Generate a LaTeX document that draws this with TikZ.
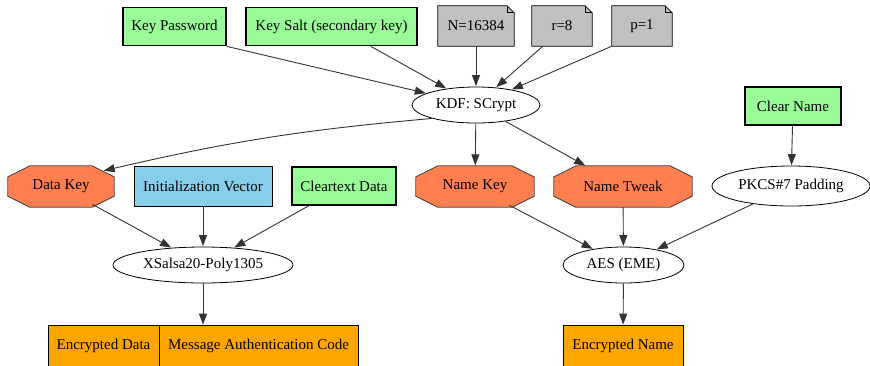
\documentclass[tikz,border=0pt]{standalone}
\usepackage{fontspec}
\setmainfont{Liberation Serif}
\usetikzlibrary{arrows.meta,shapes.geometric,backgrounds}
\definecolor{palegreen}{HTML}{98FB98}
\definecolor{notegray}{HTML}{C0C0C0}
\definecolor{skyblue}{HTML}{87CEEB}
\definecolor{coral}{HTML}{FF7F50}
\definecolor{recorange}{HTML}{FFA500}
\definecolor{edgecol}{HTML}{333333}
\tikzset{
  base/.style={font=\fontsize{15}{17}\selectfont, inner sep=0pt, text=black},
  inbox/.style={base, rectangle, draw=black, line width=1.8pt, fill=palegreen, minimum height=38pt},
  ivbox/.style={base, rectangle, draw=black, line width=0.8pt, fill=skyblue, minimum height=40pt},
  notenode/.style={base, rectangle, minimum height=40pt},
  notefill/.style={draw=black, line width=0.8pt, fill=notegray, line join=miter},
  keynode/.style={base, rectangle, minimum height=41pt},
  octfill/.style={draw=black!75, line width=0.8pt, fill=coral},
  opnode/.style={base, ellipse, draw=black, line width=0.8pt, fill=white, inner sep=0pt},
  outbox/.style={base, rectangle, draw=black, line width=0.8pt, fill=recorange, minimum height=41pt},
  edge/.style={draw=edgecol, line width=0.9pt, -{Triangle[length=11pt,width=8pt]}, shorten >=0.5pt}
}
% note outline with folded top-right corner
\newcommand\notedraw[1]{%
  \draw[notefill] (#1.south west) -- (#1.north west) -- ([xshift=-7pt]#1.north east)
    -- ([yshift=-7pt]#1.north east) -- (#1.south east) -- cycle;
  \draw[line width=0.8pt] ([xshift=-7pt]#1.north east) -- ([xshift=-7pt,yshift=-7pt]#1.north east)
    -- ([yshift=-7pt]#1.north east);}
% stretched octagon outline
\newcommand\octdraw[1]{%
  \draw[octfill] ([xshift=22pt]#1.north west) -- ([xshift=-22pt]#1.north east)
    -- ([yshift=-11pt]#1.north east) -- ([yshift=11pt]#1.south east)
    -- ([xshift=-22pt]#1.south east) -- ([xshift=22pt]#1.south west)
    -- ([yshift=11pt]#1.south west) -- ([yshift=-11pt]#1.north west) -- cycle;}
\begin{document}
\begin{tikzpicture}[x=1pt,y=-1pt]
\useasboundingbox (0,0) rectangle (870,365);

% top row: inputs of the KDF
\node[inbox, minimum width=103pt] (kp) at (174.5,26.5) {Key Password};
\node[inbox, minimum width=171pt] (ks) at (331.5,26.5) {Key Salt (secondary key)};
\node[notenode, minimum width=76pt] (nn) at (476,26) {N=16384};
\node[notenode, minimum width=60pt] (rr) at (562,26) {r=8};
\node[notenode, minimum width=60pt] (pp) at (642,26) {p=1};

\node[opnode, minimum width=128pt, minimum height=36pt] (kdf) at (476,105) {KDF: SCrypt};
\node[inbox, minimum width=96pt] (cn) at (793,106) {Clear Name};

% middle row
\node[keynode, minimum width=106pt] (dk) at (61,186.5) {Data Key};
\node[ivbox, minimum width=138pt] (iv) at (203,186) {Initialization Vector};
\node[inbox, minimum width=104pt] (ct) at (344,186) {Cleartext Data};
\node[keynode, minimum width=118pt] (nk) at (475,186.5) {Name Key};
\node[keynode, minimum width=138pt] (nt) at (623,186.5) {Name Tweak};
\node[opnode, minimum width=158pt, minimum height=40pt] (pk) at (791,186) {PKCS\#7 Padding};

% ciphers
\node[opnode, minimum width=180pt, minimum height=36pt] (xs) at (203,265) {XSalsa20-Poly1305};
\node[opnode, minimum width=121pt, minimum height=36pt] (aes) at (623.5,265) {AES (EME)};

% outputs
\node[outbox, minimum width=111pt] (ed) at (103.5,346) {Encrypted Data};
\node[outbox, minimum width=199pt] (mac) at (258.5,346) {Message Authentication Code};
\node[outbox, minimum width=120pt] (en) at (623,346) {Encrypted Name};

% shape outlines behind the labels
\begin{scope}[on background layer]
  \notedraw{nn}
  \notedraw{rr}
  \notedraw{pp}
  \octdraw{dk}
  \octdraw{nk}
  \octdraw{nt}
\end{scope}

% connectors
\draw[edge] (kp.south east) -- (kdf);
\draw[edge] ([xshift=-47pt]ks.south east) -- (kdf);
\draw[edge] (nn) -- (kdf);
\draw[edge] ([xshift=11pt]rr.south west) -- (kdf);
\draw[edge] (pp.south west) -- (kdf);
\draw[edge] (kdf.197) to[bend right=4] ([xshift=-11pt,yshift=-5pt]dk.north east);
\draw[edge] (kdf) -- (nk);
\draw[edge] (kdf) -- (nt);
\draw[edge] (cn) -- (pk);
\draw[edge] ([xshift=-22pt,yshift=3pt]dk.south east) -- (xs);
\draw[edge] (iv) -- (xs);
\draw[edge] (ct) -- (xs);
\draw[edge] ([xshift=-25pt,yshift=2pt]nk.south east) -- (aes);
\draw[edge] (nt) -- (aes);
\draw[edge] (pk) -- (aes);
\draw[edge] (xs) -- (xs |- mac.north);
\draw[edge] (aes) -- (en);
\end{tikzpicture}
\end{document}
